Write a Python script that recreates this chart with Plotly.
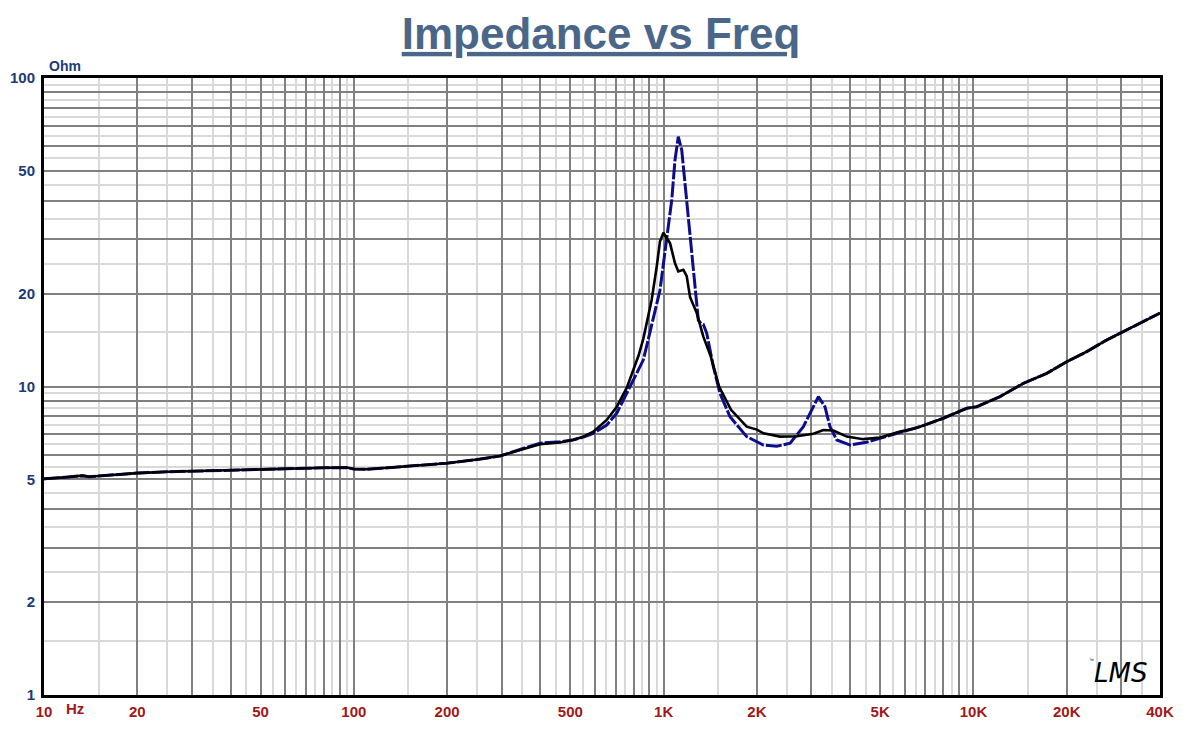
import math
import plotly.graph_objects as go

# ---- data ----
black_freq = [10, 11, 12, 13.3, 14, 15, 17, 20, 25, 30, 40, 50, 60, 70, 80, 95, 100, 110, 122,
              150, 199, 250, 296, 344, 399, 463, 511, 551, 593, 655, 706, 760, 800, 830, 860, 915,
              950, 973, 998, 1049, 1088, 1115, 1158, 1187, 1217, 1279, 1343, 1420, 1510, 1650,
              1854, 2000, 2100, 2376, 2689, 3042, 3278, 3530, 3899, 4411, 4994, 5795, 6400,
              6722, 7996, 9510, 10250, 12180, 14490, 17240, 20000, 23210, 26920, 31250, 39540, 40000]
black_z = [5.02, 5.07, 5.09, 5.14, 5.10, 5.13, 5.19, 5.24, 5.29, 5.32, 5.36, 5.38, 5.41, 5.43,
           5.45, 5.46, 5.40, 5.39, 5.43, 5.52, 5.64, 5.80, 5.95, 6.23, 6.50, 6.58, 6.71, 6.88,
           7.14, 7.79, 8.6, 9.9, 11.3, 12.6, 14.3, 19.1, 24.5, 29.5, 31.5, 29.1, 25.1, 23.6, 23.9,
           22.8, 19.5, 17.3, 14.5, 12.5, 10.0, 8.4, 7.41, 7.25, 7.05, 6.88, 6.9, 7.03, 7.23,
           7.2, 6.88, 6.75, 6.83, 7.14, 7.3, 7.41, 7.89, 8.5, 8.6, 9.27, 10.24, 11.03, 12.03,
           12.97, 14.15, 15.25, 17.2, 17.3]

blue_freq = [10, 11, 12, 13.3, 14, 15, 17, 20, 25, 30, 40, 50, 60, 70, 80, 95, 100, 110, 122,
             150, 199, 250, 296, 344, 399, 463, 511, 551, 593, 655, 706, 760, 860, 973, 1023,
             1062, 1088, 1115, 1144, 1172, 1201, 1232, 1263, 1294, 1320, 1343, 1377, 1447,
             1520, 1638, 1854, 2099, 2317, 2560, 2825, 3042, 3158, 3316, 3443, 3621, 4000,
             4520, 5000, 6095, 6722, 7996, 9510, 10250, 12180, 14490, 17240, 20000, 23210,
             26920, 31250, 39540, 40000]
blue_z = [5.02, 5.07, 5.09, 5.14, 5.10, 5.13, 5.19, 5.24, 5.29, 5.32, 5.36, 5.38, 5.41, 5.43,
          5.45, 5.46, 5.40, 5.39, 5.43, 5.52, 5.64, 5.80, 5.95, 6.25, 6.55, 6.62, 6.72, 6.85,
          7.05, 7.5, 8.2, 9.5, 12.2, 20.5, 29.9, 40.2, 54.2, 64.5, 58.4, 45.6, 35.5, 27.7,
          21.1, 16.4, 16.0, 15.9, 14.9, 11.6, 9.5, 7.98, 6.88, 6.46, 6.4, 6.55, 7.41, 8.6,
          9.27, 8.6, 7.41, 6.71, 6.46, 6.6, 6.8, 7.23, 7.41, 7.89, 8.5, 8.6, 9.27, 10.24,
          11.03, 12.03, 12.97, 14.15, 15.25, 17.2, 17.3]

x_labels = {10: "10", 20: "20", 50: "50", 100: "100", 200: "200", 500: "500",
            1000: "1K", 2000: "2K", 5000: "5K", 10000: "10K", 20000: "20K", 40000: "40K"}
y_labels = {1: "1", 2: "2", 5: "5", 10: "10", 20: "20", 50: "50", 100: "100"}

# grid positions
x_major = [m * 10 ** d for d in range(1, 5) for m in range(1, 10) if m * 10 ** d <= 40000]
x_minor = [(m + 0.5) * 10 ** d for d in range(1, 5) for m in range(1, 10) if (m + 0.5) * 10 ** d < 40000]
y_major = [m * 10 ** d for d in range(0, 2) for m in range(1, 10)] + [100]
y_minor = [(m + 0.5) * 10 ** d for d in range(0, 2) for m in range(1, 10)]

# page offset of the figure (default body margin of the html page)
OX, OY = 8, 8
W, H = 1192, 721
L, R, T, B = 44 - OX, 40, 78 - OY, 34

FONT = "Liberation Sans, Arial, sans-serif"
XCOL = "#a01818"
YCOL = "#1c3a78"
MAJ = "#808080"
MIN = "#d9d9d9"

pw = W - L - R
ph = H - T - B


def px_x(px):
    return (px - OX - L) / pw


def px_y(py):
    return (H - B - (py - OY)) / ph


fig = go.Figure()
fig.add_trace(go.Scatter(x=blue_freq, y=blue_z, mode="lines",
                         line=dict(color="#0c0c8c", width=3, dash="16px,2px"),
                         showlegend=False, hoverinfo="skip"))
fig.add_trace(go.Scatter(x=black_freq, y=black_z, mode="lines",
                         line=dict(color="#000000", width=2.6),
                         showlegend=False, hoverinfo="skip"))

fig.update_layout(
    width=W, height=H,
    margin=dict(l=L, r=R, t=T, b=B, autoexpand=False),
    paper_bgcolor="white", plot_bgcolor="white",
    title=dict(text="Impedance vs Freq", x=(601 - OX) / W, xanchor="center",
               y=1 - (33.5 - OY) / H, yanchor="middle", yref="container", automargin=False,
               font=dict(family=FONT, size=44, color="#4a6789", weight="bold",
                         lineposition="under")),
    xaxis=dict(type="log", range=[1, math.log10(40000)], automargin=False,
               tickmode="array", tickvals=x_major,
               ticktext=[x_labels.get(v, "") for v in x_major],
               tickfont=dict(family=FONT, size=15, color=XCOL, weight="bold"),
               ticks="", showgrid=True, gridcolor=MAJ, gridwidth=2,
               minor=dict(tickmode="array", tickvals=x_minor, showgrid=True,
                          gridcolor=MIN, gridwidth=1.5, ticks=""),
               showline=True, linecolor="black", linewidth=3, mirror=True,
               zeroline=False, ticklabelstandoff=1),
    yaxis=dict(type="log", range=[0, 2], automargin=False,
               tickmode="array", tickvals=y_major,
               ticktext=[y_labels.get(v, "") for v in y_major],
               tickfont=dict(family=FONT, size=15, color=YCOL, weight="bold"),
               ticks="", showgrid=True, gridcolor=MAJ, gridwidth=2,
               minor=dict(tickmode="array", tickvals=y_minor, showgrid=True,
                          gridcolor=MIN, gridwidth=1.5, ticks=""),
               showline=True, linecolor="black", linewidth=3, mirror=True,
               zeroline=False, ticklabelstandoff=3),
)

fig.add_annotation(text="<b>Ohm</b>", xref="paper", yref="paper",
                   x=px_x(47), y=px_y(66), xanchor="left", yanchor="middle",
                   showarrow=False, font=dict(family=FONT, size=14, color=YCOL))
fig.add_annotation(text="<b>Hz</b>", xref="paper", yref="paper",
                   x=px_x(64), y=px_y(708), xanchor="left", yanchor="middle",
                   showarrow=False, font=dict(family=FONT, size=15, color=XCOL))
fig.add_annotation(text="<i>LMS</i>", xref="paper", yref="paper",
                   x=px_x(1120), y=px_y(673), xanchor="center", yanchor="middle",
                   showarrow=False, font=dict(family="DejaVu Sans, sans-serif", size=26, color="black"))
fig.add_annotation(text="™", xref="paper", yref="paper",
                   x=px_x(1091), y=px_y(660), xanchor="center", yanchor="middle",
                   showarrow=False, font=dict(family=FONT, size=5, color="black"))

fig.write_html("out.html")
